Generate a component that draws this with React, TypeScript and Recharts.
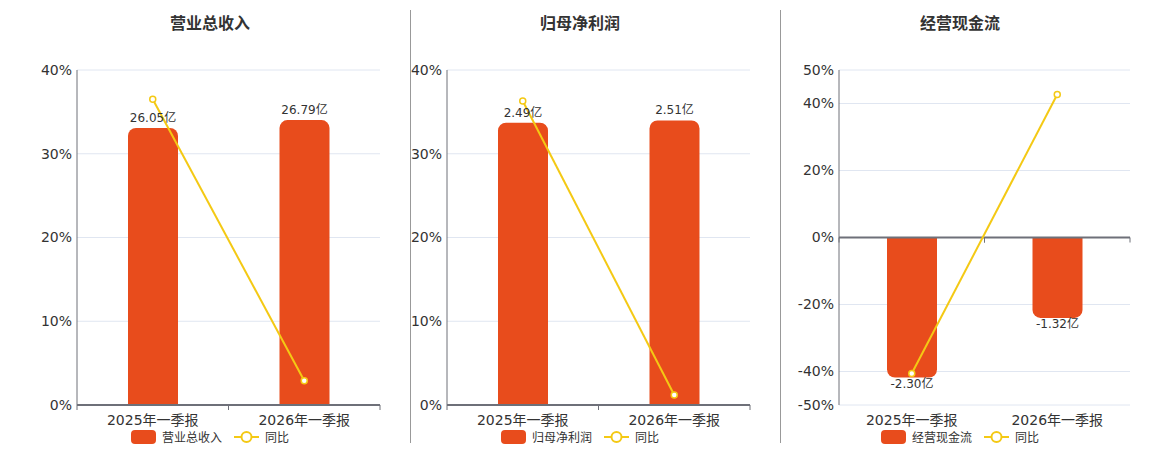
import React from "react"
import {
  ComposedChart,
  Bar,
  Line,
  XAxis,
  YAxis,
  CartesianGrid,
  LabelList,
  ReferenceLine,
} from "recharts"

const categories = ["2025年一季报", "2026年一季报"]

const revenue = [26.05, 26.79]
const revenueYoy = [36.5, 2.9]

const profit = [2.49, 2.51]
const profitYoy = [36.3, 1.2]

const cashFlow = [-2.3, -1.32]
const cashFlowYoy = [-40.6, 42.7]

const FONT = "'DejaVu Sans', 'Noto Sans CJK SC', sans-serif"
const BAR_COLOR = "#e84c1c"
const LINE_COLOR = "#f4c914"
const AXIS_COLOR = "#6e7079"
const TEXT_COLOR = "#333"

const PLOT_TOP = 70
const X_AXIS_HEIGHT = 45

type PanelProps = {
  title: string
  name: string
  values: number[]
  yoy: number[]
  left: number
  width: number
  yAxisWidth: number
  marginRight: number
  pctDomain: [number, number]
  pctTicks: number[]
  barDomain: [number, number]
  negative?: boolean
}

const BarLabel = (props: any) => {
  const { x, y, width, height, value } = props
  const top = Math.min(y, y + height)
  const bottom = Math.max(y, y + height)
  const neg = value < 0
  return (
    <text
      x={x + width / 2}
      y={neg ? bottom + 10 : top - 6}
      textAnchor="middle"
      fontSize={12}
      fill={TEXT_COLOR}
      fontFamily={FONT}
    >
      {value.toFixed(2)}亿
    </text>
  )
}

function Panel(p: PanelProps) {
  const height = 450
  const data = categories.map((c, i) => ({ name: c, value: p.values[i], yoy: p.yoy[i] }))
  const plotWidth = p.width - p.yAxisWidth - p.marginRight
  const band = plotWidth / categories.length
  const plotBottom = height - X_AXIS_HEIGHT
  // the category axis sits on the 0% line
  const [lo, hi] = p.pctDomain
  const axisY = PLOT_TOP + (hi / (hi - lo)) * (plotBottom - PLOT_TOP)

  const XTick = (props: any) => {
    const { x, y, payload } = props
    return (
      <g>
        <line x1={x - band / 2} x2={x - band / 2} y1={axisY} y2={axisY + 5} stroke={AXIS_COLOR} />
        <line x1={x + band / 2} x2={x + band / 2} y1={axisY} y2={axisY + 5} stroke={AXIS_COLOR} />
        <text x={x} y={y + 12} textAnchor="middle" fontSize={14} fill={TEXT_COLOR} fontFamily={FONT}>
          {payload.value}
        </text>
      </g>
    )
  }

  return (
    <div style={{ position: "absolute", left: p.left, top: 0, width: p.width, height }}>
      <div
        style={{
          position: "absolute",
          left: 0,
          width: p.width,
          top: 10,
          textAlign: "center",
          fontSize: 16,
          fontWeight: "bold",
          color: TEXT_COLOR,
          fontFamily: FONT,
        }}
      >
        {p.title}
      </div>
      <ComposedChart
        width={p.width}
        height={height}
        data={data}
        margin={{ top: PLOT_TOP, right: p.marginRight, bottom: 0, left: 0 }}
      >
        <CartesianGrid yAxisId="pct" horizontal vertical={false} stroke="#e0e6f1" />
        <XAxis
          dataKey="name"
          height={X_AXIS_HEIGHT}
          tick={<XTick />}
          tickLine={false}
          axisLine={p.negative ? false : { stroke: AXIS_COLOR, strokeWidth: 2 }}
          interval={0}
        />
        <YAxis
          yAxisId="pct"
          orientation="left"
          width={p.yAxisWidth}
          domain={p.pctDomain}
          ticks={p.pctTicks}
          tickFormatter={(v) => `${v}%`}
          tickLine={false}
          tickSize={3}
          tickMargin={2}
          axisLine={{ stroke: AXIS_COLOR }}
          tick={{ fontSize: 14, fill: TEXT_COLOR, fontFamily: FONT }}
          allowDataOverflow
        />
        <YAxis yAxisId="amt" orientation="right" hide domain={p.barDomain} allowDataOverflow />
        {p.negative && (
          <ReferenceLine yAxisId="pct" y={0} stroke={AXIS_COLOR} strokeWidth={2} />
        )}
        <Bar
          yAxisId="amt"
          dataKey="value"
          name={p.name}
          fill={BAR_COLOR}
          barSize={50}
          radius={[8, 8, 0, 0]}
          isAnimationActive={false}
        >
          <LabelList dataKey="value" content={<BarLabel />} />
        </Bar>
        <Line
          yAxisId="pct"
          dataKey="yoy"
          name="同比"
          stroke={LINE_COLOR}
          strokeWidth={2}
          dot={{ r: 3, fill: "#fff", stroke: LINE_COLOR, strokeWidth: 1.5 }}
          activeDot={false}
          isAnimationActive={false}
        />
      </ComposedChart>
      <div
        style={{
          position: "absolute",
          left: 0,
          width: p.width,
          top: 428,
          display: "flex",
          justifyContent: "center",
          alignItems: "center",
          fontSize: 12,
          color: TEXT_COLOR,
          fontFamily: FONT,
        }}
      >
        <span
          style={{
            display: "inline-block",
            width: 25,
            height: 14,
            borderRadius: 4,
            background: BAR_COLOR,
            marginRight: 6,
          }}
        />
        <span style={{ marginRight: 12 }}>{p.name}</span>
        <svg width={25} height={14} style={{ marginRight: 6 }}>
          <line x1={0} x2={25} y1={7} y2={7} stroke={LINE_COLOR} strokeWidth={2} />
          <circle cx={12.5} cy={7} r={5} fill="#fff" stroke={LINE_COLOR} strokeWidth={2} />
        </svg>
        <span>同比</span>
      </div>
    </div>
  )
}

const Separator = ({ x }: { x: number }) => (
  <div
    style={{
      position: "absolute",
      left: x,
      top: 10,
      width: 1,
      height: 433,
      background: "#999",
    }}
  />
)

export default function App() {
  return (
    <div style={{ position: "absolute", left: 0, top: 0, width: 1160, height: 450, background: "#fff" }}>
      <Panel
        title="营业总收入"
        name="营业总收入"
        values={revenue}
        yoy={revenueYoy}
        left={10}
        width={400}
        yAxisWidth={67}
        marginRight={30}
        pctDomain={[0, 40]}
        pctTicks={[0, 10, 20, 30, 40]}
        barDomain={[0, 31.5]}
      />
      <Separator x={410} />
      <Panel
        title="归母净利润"
        name="归母净利润"
        values={profit}
        yoy={profitYoy}
        left={400}
        width={360}
        yAxisWidth={47}
        marginRight={10}
        pctDomain={[0, 40]}
        pctTicks={[0, 10, 20, 30, 40]}
        barDomain={[0, 2.955]}
      />
      <Separator x={780} />
      <Panel
        title="经营现金流"
        name="经营现金流"
        values={cashFlow}
        yoy={cashFlowYoy}
        left={780}
        width={360}
        yAxisWidth={59}
        marginRight={10}
        pctDomain={[-50, 50]}
        pctTicks={[-50, -40, -20, 0, 20, 40, 50]}
        barDomain={[-2.75, 2.75]}
        negative
      />
    </div>
  )
}
